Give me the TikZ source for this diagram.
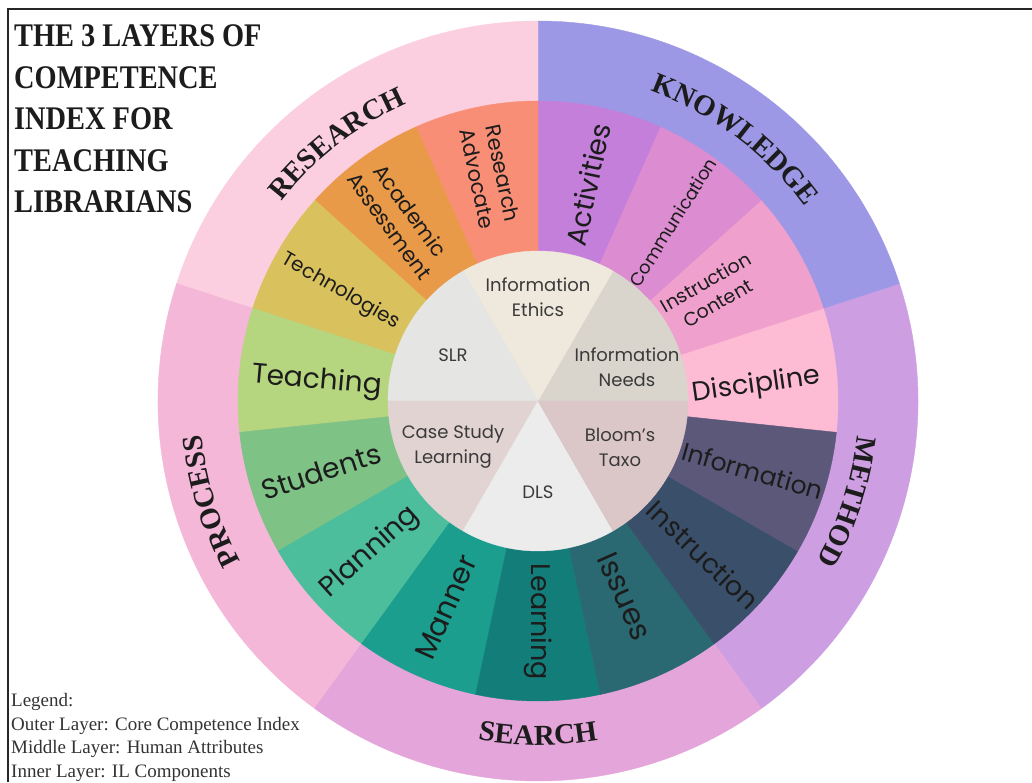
\documentclass[tikz,border=0pt]{standalone}
\usepackage{fontspec}
\setmainfont{Liberation Serif}
\newfontfamily\midfont{Poppins}
\newfontfamily\titlefont[FakeStretch=0.86]{Liberation Serif}
\newfontfamily\outerfont{Liberation Serif}
\usetikzlibrary{calc,decorations.text}
% outer ring
\definecolor{oRes}{HTML}{FBCFDF}
\definecolor{oKnow}{HTML}{9D98E6}
\definecolor{oMeth}{HTML}{CD9EE2}
\definecolor{oSearch}{HTML}{E4A5DA}
\definecolor{oProc}{HTML}{F4B7D8}
% middle ring
\definecolor{mRA}{HTML}{F98E76}
\definecolor{mAA}{HTML}{E99A48}
\definecolor{mTech}{HTML}{D9C25E}
\definecolor{mTeach}{HTML}{B6D57F}
\definecolor{mStud}{HTML}{7EC286}
\definecolor{mPlan}{HTML}{4CBE9C}
\definecolor{mMann}{HTML}{1B9E8E}
\definecolor{mLearn}{HTML}{127D79}
\definecolor{mIss}{HTML}{2A6872}
\definecolor{mInstr}{HTML}{3A4F69}
\definecolor{mInfo}{HTML}{5C587A}
\definecolor{mDisc}{HTML}{FDBBD4}
\definecolor{mIC}{HTML}{F0A0CD}
\definecolor{mComm}{HTML}{DC8CD0}
\definecolor{mAct}{HTML}{C37FDA}
% inner circle
\definecolor{iEth}{HTML}{EFE8DC}
\definecolor{iNeed}{HTML}{D9D5CD}
\definecolor{iBloom}{HTML}{DCC7C8}
\definecolor{iDLS}{HTML}{ECECEC}
\definecolor{iCase}{HTML}{E2D3D3}
\definecolor{iSLR}{HTML}{E5E6E4}
\definecolor{txt}{HTML}{1C1C1C}
\definecolor{itxt}{HTML}{3A3A3A}
\definecolor{legtxt}{HTML}{333333}
\tikzset{
  midl/.style n args={2}{text=txt, align=center, inner sep=0pt,
    font=\midfont\fontsize{#1pt}{#2pt}\selectfont},
  innl/.style={text=itxt, align=center, inner sep=0pt,
    font=\midfont\fontsize{18pt}{25pt}\selectfont},
  titl/.style={text=txt, anchor=base west, inner sep=0pt,
    font=\titlefont\bfseries\fontsize{33pt}{40pt}\selectfont},
  legl/.style={text=legtxt, anchor=base west, inner sep=0pt,
    font=\fontsize{19pt}{23pt}\selectfont},
  outl/.style={decorate, decoration={text along path, text align=center,
    text={|\outerfont\bfseries\fontsize{29pt}{30pt}\selectfont\color{txt}|#1}}}
}
\begin{document}
\begin{tikzpicture}[x=1pt,y=1pt]
\useasboundingbox (0,0) rectangle (1032,782);
\fill[white] (0,0) rectangle (1032,782);
\coordinate (O) at (538,381);

% outer ring wedges
\foreach \s/\c in {-54/oMeth,18/oKnow,90/oRes,162/oProc,234/oSearch}
  \filldraw[fill=\c, draw=\c, line width=0.4pt] (O) -- ($(O)+(\s:380pt)$)
     arc[start angle=\s, delta angle=72, radius=380pt] -- cycle;

% middle ring wedges
\foreach \s/\c in {-6/mDisc,18/mIC,42/mComm,66/mAct,90/mRA,114/mAA,138/mTech,
   162/mTeach,186/mStud,210/mPlan,234/mMann,258/mLearn,282/mIss,306/mInstr,330/mInfo}
  \filldraw[fill=\c, draw=\c, line width=0.4pt] (O) -- ($(O)+(\s:300pt)$)
     arc[start angle=\s, delta angle=24, radius=300pt] -- cycle;

% inner wedges
\foreach \s/\c in {0/iNeed,60/iEth,120/iSLR,180/iCase,240/iDLS,300/iBloom}
  \filldraw[fill=\c, draw=\c, line width=0.4pt] (O) -- ($(O)+(\s:150pt)$)
     arc[start angle=\s, delta angle=60, radius=150pt] -- cycle;

% frame
\draw[line width=2pt, black!85] (1032,773) -- (8,773) -- (8,0);

% title
\node[titl] (t1) at (14,735.3) {THE 3 LAYERS OF};
\node[titl] (t2) at (14,693.7) {COMPETENCE};
\node[titl] (t3) at (14,652) {INDEX FOR};
\node[titl] (t4) at (14,610.3) {TEACHING};
\node[titl] (t5) at (14,569) {LIBRARIANS};

% legend
\node[legl] (lg1) at (11,76) {Legend:};
\node[legl] (lg2) at (11,52) {Outer Layer: Core Competence Index};
\node[legl] (lg3) at (11,29) {Middle Layer: Human Attributes};
\node[legl] (lg4) at (11,5) {Inner Layer: IL Components};

% outer labels
\path[outl=RESEARCH] ($(O)+(158:325pt)$) arc[start angle=158, end angle=98, radius=325pt];
\path[outl=KNOWLEDGE] ($(O)+(83:330pt)$) arc[start angle=83, end angle=23, radius=330pt];
\path[outl=METHOD] ($(O)+(7:321pt)$) arc[start angle=7, end angle=-43, radius=321pt];
\path[outl=SEARCH] ($(O)+(-120:344pt)$) arc[start angle=-120, end angle=-60, radius=344pt];
\path[outl=PROCESS] ($(O)+(222:338pt)$) arc[start angle=222, end angle=172, radius=338pt];

% middle labels
\node[midl={21}{26}, rotate=-78] (ra) at ($(O)+(102:230pt)$) {Research\\Advocate};
\node[midl={21}{26}, rotate=-54] (aa) at ($(O)+(127:229pt)$) {Academic\\Assessment};
\node[midl={20}{24}, rotate=-30] (tech) at ($(O)+(151:226pt)$) {Technologies};
\node[midl={28}{32}, rotate=-5] (teach) at ($(O)+(175:222pt)$) {Teaching};
\node[midl={28}{32}, rotate=18] (stud) at ($(O)+(-162:228pt)$) {Students};
\node[midl={28}{32}, rotate=42] (plan) at ($(O)+(-138:226pt)$) {Planning};
\node[midl={29}{32}, rotate=66] (mann) at ($(O)+(-114:226pt)$) {Manner};
\node[midl={27}{32}, rotate=-90] (learn) at ($(O)+(-90:221pt)$) {Learning};
\node[midl={30}{32}, rotate=-66] (iss) at ($(O)+(-66:214pt)$) {Issues};
\node[midl={27}{32}, rotate=-44] (instr) at ($(O)+(-43:226pt)$) {Instruction};
\node[midl={25}{32}, rotate=-16] (info) at ($(O)+(-18:226pt)$) {Information};
\node[midl={27}{32}, rotate=8] (disc) at ($(O)+(4:219pt)$) {Discipline};
\node[midl={19}{24}, rotate=30] (ic) at ($(O)+(32:205pt)$) {Instruction\\Content};
\node[midl={18}{22}, rotate=58] (comm) at ($(O)+(53:224pt)$) {Communication};
\node[midl={28}{32}, rotate=78] (act) at ($(O)+(77:222pt)$) {Activities};

% inner labels
\node[innl] (ethics) at ($(O)+(0,104)$) {Information\\Ethics};
\node[innl] (needs) at ($(O)+(89,34)$) {Information\\Needs};
\node[innl] (bloom) at ($(O)+(82,-46)$) {Bloom’s\\Taxo};
\node[innl] (dls) at ($(O)+(0,-91)$) {DLS};
\node[innl] (case) at ($(O)+(-85,-46)$) {Case Study\\Learning};
\node[innl] (slr) at ($(O)+(-85,46)$) {SLR};
\end{tikzpicture}
\end{document}
